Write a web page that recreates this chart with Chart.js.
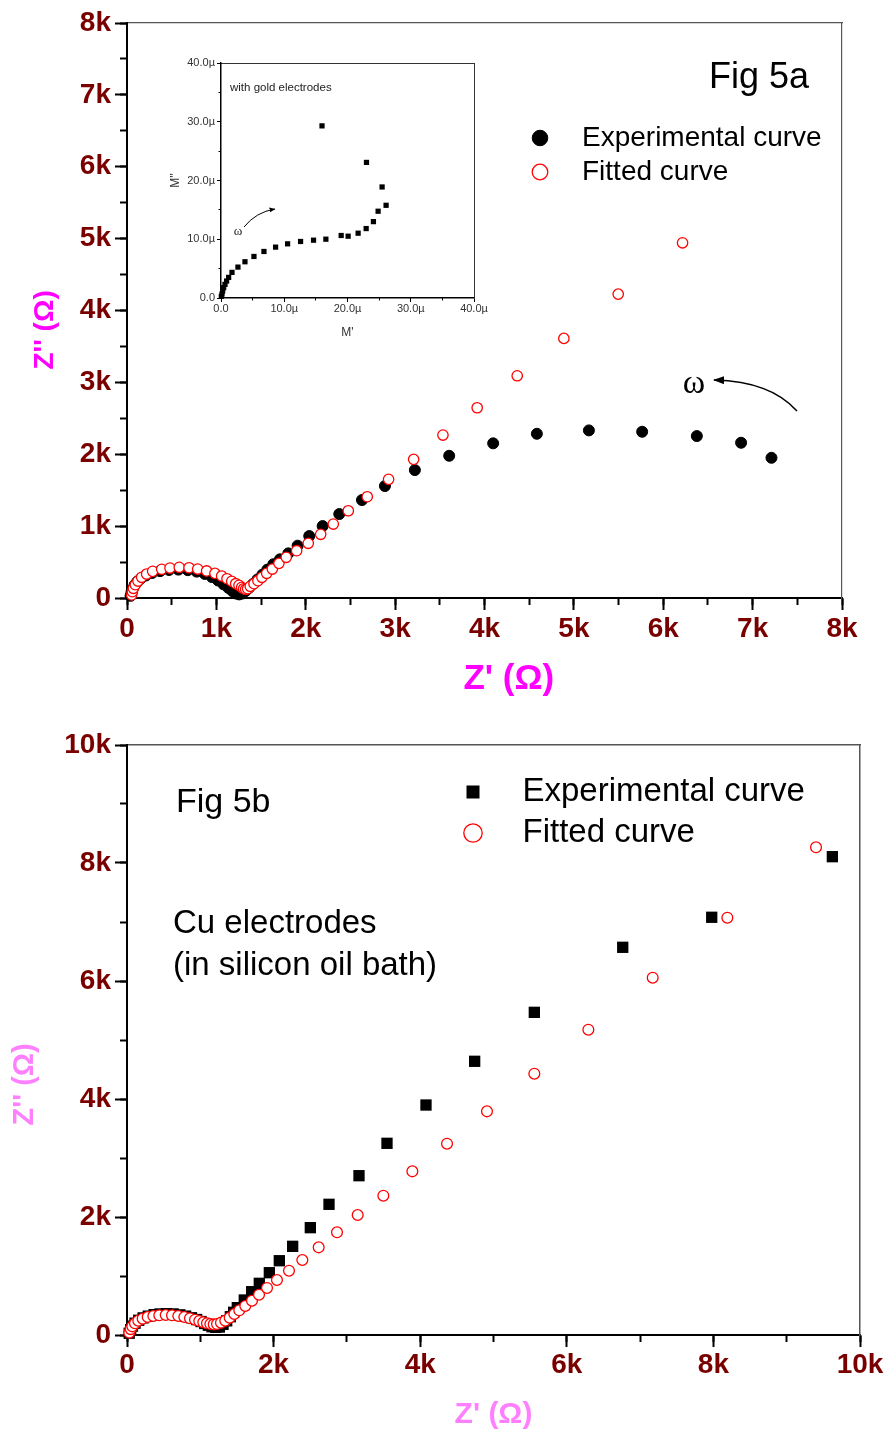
<!DOCTYPE html>
<html><head><meta charset="utf-8">
<script src="https://cdn.jsdelivr.net/npm/chart.js@4.4.1/dist/chart.umd.min.js"></script>
<style>
html,body{margin:0;padding:0;background:#fff;}
#wrap{position:relative;width:888px;height:1433px;overflow:hidden;background:#fff;font-family:"Liberation Sans",Arial,sans-serif;}
canvas{position:absolute;}
.t{position:absolute;white-space:nowrap;line-height:1;color:#000;}
.s{font-family:"Liberation Serif","Times New Roman",serif;text-align:center;}
</style></head><body>
<div id="wrap">
<canvas id="c1" width="888" height="720" style="left:0;top:0;width:888px;height:720px"></canvas>
<canvas id="c2" width="888" height="713" style="left:0;top:720px;width:888px;height:713px"></canvas>
<canvas id="c3" width="340" height="300" style="left:150px;top:50px;width:340px;height:300px"></canvas>
<div class="t" style="left:709px;top:58px;font-size:36px">Fig 5a</div>
<div class="t" style="left:230px;top:82px;font-size:11.5px;color:#222">with gold electrodes</div>
<div class="t s" style="left:664px;top:365px;width:60px;font-size:34px">ω</div>
<div class="t s" style="left:223px;top:224px;width:30px;font-size:13px;color:#222">ω</div>
<div class="t" style="left:176px;top:783px;font-size:34px">Fig 5b</div>
<div class="t" style="left:173px;top:905px;font-size:33px">Cu electrodes</div>
<div class="t" style="left:173px;top:947px;font-size:33px">(in silicon oil bath)</div>
<svg width="888" height="1433" style="position:absolute;left:0;top:0;pointer-events:none">
<defs>
<marker id="ah" markerWidth="11" markerHeight="8" refX="10" refY="4" orient="auto" markerUnits="userSpaceOnUse"><path d="M0,0 L11,4 L0,8 z" fill="#000"/></marker>
<marker id="ah2" markerWidth="6" markerHeight="5" refX="5.5" refY="2.5" orient="auto" markerUnits="userSpaceOnUse"><path d="M0,0 L6,2.5 L0,5 z" fill="#000"/></marker>
</defs>
<path d="M797 411 Q 770 381 714 380" stroke="#000" stroke-width="1.5" fill="none" marker-end="url(#ah)"/>
<path d="M244 227 Q 256 212 275 209" stroke="#000" stroke-width="1" fill="none" marker-end="url(#ah2)"/>
</svg>
</div>
<script>
// ---------- DATA (Ohm) : Fig 5a ----------
const seriesLabels = ['Experimental curve', 'Fitted curve'];

const topExpZre = [40,50,65,85,115,155,210,280,370,470,575,680,780,870,950,1020,1080,1135,1180,1220,1255,1290,1325,1365,1410,1460,1515,1570,1637,1711,1805,1909,2039,2189,2375,2629,2886,3221,3605,4097,4586,5168,5764,6376,6871,7211];
const topExpZim = [30,80,130,180,228,272,312,348,374,390,395,387,367,335,292,243,190,140,95,62,50,62,95,140,195,258,325,395,470,538,621,728,862,1001,1168,1363,1558,1780,1979,2152,2285,2332,2313,2253,2160,1951];

const topFitZre = [52,60,71,93,123,164,220,287,388,481,585,694,791,891,984,1059,1119,1171,1216,1253,1283,1305,1327,1350,1379,1421,1465,1510,1563,1626,1700,1782,1898,2028,2167,2308,2476,2688,2927,3207,3535,3918,4366,4888,5496,6216];
const topFitZim = [42,88,135,185,236,288,334,371,399,417,427,421,403,376,343,306,268,232,199,177,149,129,121,129,163,199,241,288,344,403,482,566,658,761,886,1029,1214,1409,1651,1929,2267,2647,3092,3612,4228,4942];

// ---------- DATA : inset (modulus, micro units) ----------
const insetMre = [0.05,0.16,0.26,0.42,0.63,0.89,1.21,1.74,2.68,3.79,5.21,6.79,8.63,10.53,12.58,14.63,16.58,19.0,20.1,21.68,22.95,24.1,24.84,26.1,25.47,23.0,15.97];
const insetMim = [0.28,0.68,1.19,1.75,2.32,2.89,3.51,4.36,5.26,6.17,7.07,7.92,8.66,9.22,9.62,9.84,10.01,10.64,10.52,11.03,11.82,13.0,14.77,15.78,18.9,23.08,29.3];

// ---------- DATA (Ohm) : Fig 5b ----------
const botExpZre = [30,50,75,110,160,220,290,370,450,540,630,720,800,880,950,1010,1060,1110,1160,1210,1260,1310,1360,1410,1455,1505,1600,1701,1805,1942,2078,2260,2501,2756,3165,3547,4079,4743,5557,6763,7977,9623];
const botExpZim = [30,90,150,200,250,290,320,345,357,362,357,342,320,292,262,228,195,165,140,130,135,180,240,310,385,463,593,734,876,1056,1259,1503,1819,2215,2700,3249,3898,4639,5469,6571,7080,8107];

const botFitZre = [31,50,72,109,154,214,282,359,441,528,614,700,782,859,928,986,1041,1091,1137,1183,1228,1282,1341,1401,1464,1532,1614,1705,1801,1910,2046,2210,2392,2615,2865,3147,3497,3893,4366,4911,5557,6294,7172,8190,9400];
const botFitZim = [39,100,147,198,242,276,305,322,334,339,334,322,305,283,259,237,215,198,186,180,186,209,243,294,356,419,492,581,683,797,932,1090,1271,1486,1741,2034,2361,2774,3242,3791,4429,5175,6056,7073,8266];

// ---------- helpers ----------
const pts = (xs, ys) => xs.map((x, i) => ({x: x, y: ys[i]}));
const kLabel = v => v === 0 ? '0' : (v / 1000) + 'k';
const muLabel = v => v === 0 ? '0.0' : v.toFixed(1) + 'µ';
const MAROON = '#7a0000';
Chart.defaults.font.family = "'Liberation Sans', Arial, sans-serif";
Chart.defaults.color = '#000';

const fixW = w => s => { s.width = w; s.paddingLeft = s.paddingRight = s.paddingTop = s.paddingBottom = 0; };
const fixH = h => s => { s.height = h; s.paddingLeft = s.paddingRight = s.paddingTop = s.paddingBottom = 0; };

function buildScales(o) {
  const minorGrid = len => ({drawOnChartArea: false, tickLength: len, tickWidth: o.tickW, tickColor: '#000'});
  return {
    x: {type: 'linear', position: 'bottom', weight: 1, min: o.xmin, max: o.xmax, afterFit: fixH(o.xH),
        ticks: {stepSize: o.xMajor, callback: o.fmt, color: o.labelColor, font: o.tickFont, padding: o.xPad, maxRotation: 0, autoSkip: false},
        grid: minorGrid(o.majorLen), border: {color: '#000', width: o.axisW},
        title: {display: true, text: o.xTitle, color: o.xTitleColor, font: o.xTitleFont, padding: {top: 0, bottom: o.xTitlePad}}},
    xMinor: {type: 'linear', position: 'bottom', weight: 0, min: o.xmin, max: o.xmax, afterFit: fixH(0),
        ticks: {stepSize: o.xMinor, display: false}, grid: minorGrid(o.minorLen), border: {display: false}},
    xTop: {type: 'linear', position: 'top', min: o.xmin, max: o.xmax, afterFit: fixH(0),
        ticks: {display: false}, grid: {drawOnChartArea: false, drawTicks: false}, border: {color: o.frameColor, width: o.frameW}},
    y: {type: 'linear', position: 'left', weight: 1, min: o.ymin, max: o.ymax, afterFit: fixW(o.yW),
        ticks: {stepSize: o.yMajor, callback: o.fmt, color: o.labelColor, font: o.tickFont, padding: o.yPad, autoSkip: false},
        grid: minorGrid(o.majorLen), border: {color: '#000', width: o.axisW},
        title: {display: true, text: o.yTitle, color: o.yTitleColor, font: o.yTitleFont, padding: {top: o.yTitlePad, bottom: 0}}},
    yMinor: {type: 'linear', position: 'left', weight: 0, min: o.ymin, max: o.ymax, afterFit: fixW(0),
        ticks: {stepSize: o.yMinor, display: false}, grid: minorGrid(o.minorLen), border: {display: false}},
    yRight: {type: 'linear', position: 'right', min: o.ymin, max: o.ymax, afterFit: fixW(0),
        ticks: {display: false}, grid: {drawOnChartArea: false, drawTicks: false}, border: {color: o.frameColor, width: o.frameW}}
  };
}

const placeLegend = (l, t) => ({
  id: 'placeLegend',
  afterLayout(chart) {
    const lg = chart.legend;
    if (!lg) return;
    lg.left = l; lg.top = t; lg.right = l + 420; lg.bottom = t + 200;
    lg.width = 420; lg.height = 200;
  }
});

function legendOpts(fontSize, boxH, pad) {
  return {
    display: true, position: 'chartArea', align: 'start',
    labels: {
      usePointStyle: true, boxWidth: fontSize, boxHeight: boxH, padding: pad,
      font: {size: fontSize}, color: '#000',
      sort: (a, b) => a.datasetIndex - b.datasetIndex,
      generateLabels: chart => Chart.defaults.plugins.legend.labels.generateLabels(chart)
        .map(it => Object.assign(it, {text: '\u2002' + it.text}))
    }
  };
}

const common = {
  responsive: false, animation: false, devicePixelRatio: 1, events: []
};

// ---------- Fig 5a ----------
new Chart(document.getElementById('c1'), {
  type: 'scatter',
  data: {datasets: [
    {label: seriesLabels[0], data: pts(topExpZre, topExpZim), order: 2, clip: false,
     pointStyle: 'circle', pointRadius: 5.5, backgroundColor: '#000', borderColor: '#000', borderWidth: 1},
    {label: seriesLabels[1], data: pts(topFitZre, topFitZim), order: 1, clip: false,
     pointStyle: 'circle', pointRadius: 5.2, backgroundColor: '#fff', borderColor: '#ff0000', borderWidth: 1.3}
  ]},
  options: Object.assign({}, common, {
    layout: {padding: {top: 23, right: 46, left: 0, bottom: 0}},
    scales: buildScales({
      xmin: 0, xmax: 8000, ymin: 0, ymax: 8000, xMajor: 1000, xMinor: 500, yMajor: 1000, yMinor: 500,
      xH: 122, yW: 127, fmt: kLabel, labelColor: MAROON, tickFont: {size: 28, weight: 'bold'},
      xPad: 2, yPad: 4, majorLen: 12, minorLen: 7, tickW: 2, axisW: 2, frameColor: '#555', frameW: 1.2,
      xTitle: "     Z' (Ω)", xTitleColor: '#ff00ff', xTitleFont: {size: 35, weight: 'bold'}, xTitlePad: 20,
      yTitle: "Z'' (Ω)     ", yTitleColor: '#ff00ff', yTitleFont: {size: 28, weight: 'bold'}, yTitlePad: 28
    }),
    plugins: {legend: legendOpts(28, 11, 6), tooltip: {enabled: false}}
  }),
  plugins: [placeLegend(520, 118)]
});

// ---------- Inset ----------
new Chart(document.getElementById('c3'), {
  type: 'scatter',
  data: {datasets: [
    {label: "M''", data: pts(insetMre, insetMim), clip: false,
     pointStyle: 'rect', pointRadius: 3.7, backgroundColor: '#000', borderWidth: 0}
  ]},
  options: Object.assign({}, common, {
    layout: {padding: {top: 13, right: 16, left: 0, bottom: 0}},
    scales: buildScales({
      xmin: 0, xmax: 40, ymin: 0, ymax: 40, xMajor: 10, xMinor: 5, yMajor: 10, yMinor: 5,
      xH: 52, yW: 71, fmt: muLabel, labelColor: '#333', tickFont: {size: 11},
      xPad: 0, yPad: 2, majorLen: 4, minorLen: 2.5, tickW: 1, axisW: 1.5, frameColor: '#333', frameW: 1,
      xTitle: "M'", xTitleColor: '#333', xTitleFont: {size: 12}, xTitlePad: 10,
      yTitle: "M''", yTitleColor: '#333', yTitleFont: {size: 12}, yTitlePad: 18
    }),
    plugins: {legend: {display: false}, tooltip: {enabled: false}}
  })
});

// ---------- Fig 5b ----------
new Chart(document.getElementById('c2'), {
  type: 'scatter',
  data: {datasets: [
    {label: seriesLabels[0], data: pts(botExpZre, botExpZim), order: 2, clip: false,
     pointStyle: 'rect', pointRadius: 8, backgroundColor: '#000', borderColor: '#000', borderWidth: 0},
    {label: seriesLabels[1], data: pts(botFitZre, botFitZim), order: 1, clip: false,
     pointStyle: 'circle', pointRadius: 5.4, backgroundColor: '#fff', borderColor: '#ff0000', borderWidth: 1.3}
  ]},
  options: Object.assign({}, common, {
    layout: {padding: {top: 25, right: 28, left: 0, bottom: 0}},
    scales: buildScales({
      xmin: 0, xmax: 10000, ymin: 0, ymax: 10000, xMajor: 2000, xMinor: 1000, yMajor: 2000, yMinor: 1000,
      xH: 98, yW: 127, fmt: kLabel, labelColor: MAROON, tickFont: {size: 28, weight: 'bold'},
      xPad: 1, yPad: 4, majorLen: 12, minorLen: 7, tickW: 2, axisW: 2, frameColor: '#555', frameW: 1.5,
      xTitle: "Z' (Ω)", xTitleColor: '#ff80ff', xTitleFont: {size: 30, weight: 'bold'}, xTitlePad: 0,
      yTitle: "Z'' (Ω)           ", yTitleColor: '#ff80ff', yTitleFont: {size: 29, weight: 'bold'}, yTitlePad: 8
    }),
    plugins: {legend: legendOpts(33, 13, 8), tooltip: {enabled: false}}
  }),
  plugins: [placeLegend(448.5, 47.5)]
});
</script>
</body></html>
